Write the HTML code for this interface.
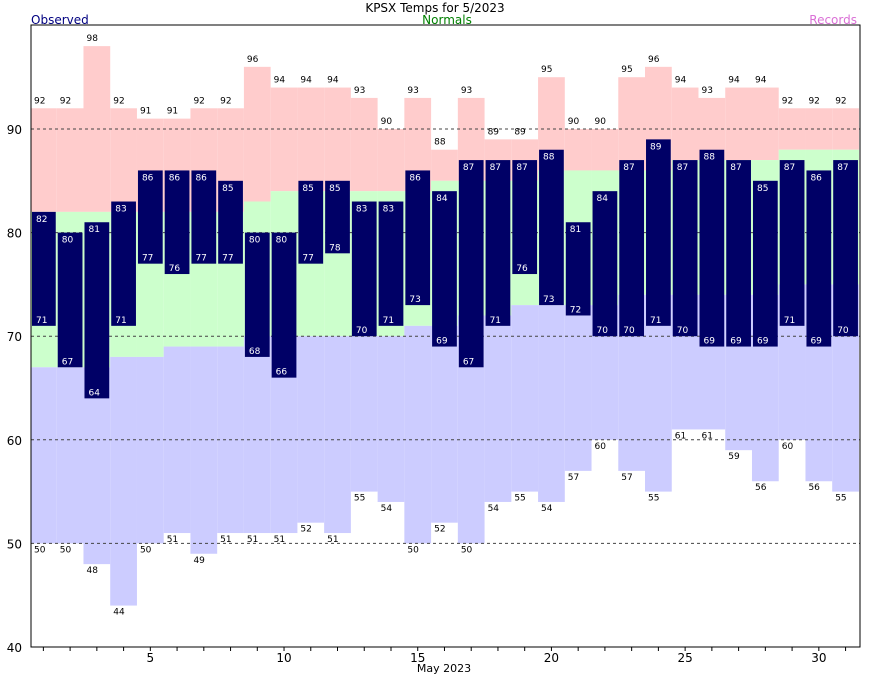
<!DOCTYPE html>
<html><head><meta charset="utf-8"><style>
html,body{margin:0;padding:0;background:#fff;}
svg{display:block;font-family:"DejaVu Sans","Liberation Sans",sans-serif;}
</style></head><body>
<svg id="chart" width="870" height="676" viewBox="0 0 870 676" xmlns="http://www.w3.org/2000/svg">
<text x="435" y="12" text-anchor="middle" font-size="12">KPSX Temps for 5/2023</text>
<text x="31" y="24" font-size="12" fill="#000080">Observed</text>
<text x="447" y="24" text-anchor="middle" font-size="12" fill="#008000">Normals</text>
<text x="857" y="24" text-anchor="end" font-size="12" fill="#da70d6">Records</text>
<g id="marks"></g>
</svg>
<script>
const days = [1,2,3,4,5,6,7,8,9,10,11,12,13,14,15,16,17,18,19,20,21,22,23,24,25,26,27,28,29,30,31];
const recHigh = [92,92,98,92,91,91,92,92,96,94,94,94,93,90,93,88,93,89,89,95,90,90,95,96,94,93,94,94,92,92,92];
const recLow = [50,50,48,44,50,51,49,51,51,51,52,51,55,54,50,52,50,54,55,54,57,60,57,55,61,61,59,56,60,56,55];
const normHigh = [82,82,82,82,82,82,82,82,83,84,84,84,84,84,84,85,85,85,85,86,86,86,86,86,87,87,87,87,88,88,88];
const normLow = [67,67,67,68,68,69,69,69,70,70,70,70,70,70,71,71,72,72,73,73,73,73,74,74,74,74,74,74,75,75,75];
const obsHigh = [82,80,81,83,86,86,86,85,80,80,85,85,83,83,86,84,87,87,87,88,81,84,87,89,87,88,87,85,87,86,87];
const obsLow = [71,67,64,71,77,76,77,77,68,66,77,78,70,71,73,69,67,71,76,73,72,70,70,71,70,69,69,69,71,69,70];
const yTicks = [40,50,60,70,80,90];
const xTicks = [5,10,15,20,25,30];

const X0 = 30, DW = 26.74, PL = 31, PR = 860, PT = 25, PB = 647;
const y = v => 647 - (v - 40) * 10.36;
const xl = d => X0 + (d - 1) * DW;
const g = document.getElementById('marks');
const NS = 'http://www.w3.org/2000/svg';
function mk(tag, attrs, txt) {
  const e = document.createElementNS(NS, tag);
  for (const k in attrs) e.setAttribute(k, attrs[k]);
  if (txt !== undefined) e.textContent = txt;
  g.appendChild(e);
  return e;
}
function rect(x1, x2, v1, v2, fill) {
  return mk('rect', {x: x1, y: y(v1), width: x2 - x1, height: y(v2) - y(v1), fill: fill});
}
days.forEach((d, i) => {
  const a = Math.max(PL, xl(d)), b = Math.min(PR, xl(d) + DW);
  let r = rect(a, b, recHigh[i], normHigh[i], '#ffcccc');
  
  
  r = rect(a, b, normHigh[i], normLow[i], '#ccffcc');
  
  
  r = rect(a, b, normLow[i], recLow[i], '#ccccff');
  
  
});
yTicks.slice(1).forEach(v => {
  const l = mk('line', {x1: PL, x2: PR, y1: y(v), y2: y(v), stroke: '#444', 'stroke-dasharray': '3,3', 'stroke-width': 1});
  
  
});
days.forEach((d, i) => {
  const a = Math.max(PL, xl(d)), b = Math.min(PR, xl(d) + DW);
  const bar = rect(a + 1, b - 1, obsHigh[i], obsLow[i], '#000066');
  
  
  let t = mk('text', {x: a + 5, y: y(obsHigh[i]) + 10, 'font-size': 9, fill: '#fff'}, obsHigh[i]);
  
  
  t = mk('text', {x: a + 5, y: y(obsLow[i]) - 3, 'font-size': 9, fill: '#fff'}, obsLow[i]);
  
  
  t = mk('text', {x: a + 3, y: y(recHigh[i]) - 5, 'font-size': 9, fill: '#000'}, recHigh[i]);
  
  
  t = mk('text', {x: a + 3, y: y(recLow[i]) + 9, 'font-size': 9, fill: '#000'}, recLow[i]);
  
  
  const tk = mk('line', {x1: xl(d) + DW / 2, x2: xl(d) + DW / 2, y1: PB, y2: PB + 4, stroke: '#000'});
  
  
});
const frame = mk('rect', {x: PL, y: PT, width: PR - PL, height: PB - PT, fill: 'none', stroke: '#000', 'stroke-width': 1});


yTicks.forEach(v => {
  const t = mk('text', {x: 22, y: y(v) + 5, 'text-anchor': 'end', 'font-size': 12}, v);
  
  
});
xTicks.forEach(d => {
  const t = mk('text', {x: xl(d) + DW / 2, y: 662, 'text-anchor': 'middle', 'font-size': 12}, d);
  
  
});
const xt = mk('text', {x: 444, y: 672, 'text-anchor': 'middle', 'font-size': 11}, 'May 2023');


</script>
</body></html>
